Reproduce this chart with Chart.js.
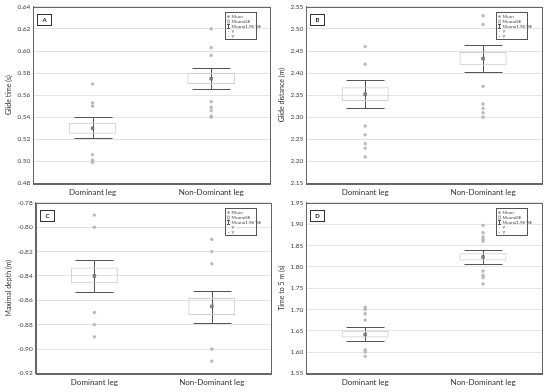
<!DOCTYPE html>
<html>
<head>
<meta charset="utf-8">
<script src="https://cdn.jsdelivr.net/npm/chart.js@4/dist/chart.umd.min.js"></script>
<style>
  body { margin: 0; background: #fff; }
  .panel { position: absolute; width: 275px; height: 196px; }
</style>
</head>
<body>
<div class="panel" style="left:0;top:0"><canvas id="chartA"></canvas></div>
<div class="panel" style="left:275px;top:0"><canvas id="chartB"></canvas></div>
<div class="panel" style="left:0;top:196px"><canvas id="chartC"></canvas></div>
<div class="panel" style="left:275px;top:196px"><canvas id="chartD"></canvas></div>
<script>
const categories = ["Dominant leg", "Non-Dominant leg"];
const legendItems = ["Mean", "Mean±SE", "Mean±1.96*SE", "Y", "Y"];

// A - glide time
const aMean = [0.530, 0.575];
const aSE = [[0.525, 0.535], [0.570, 0.580]];
const aCI = [[0.521, 0.540], [0.566, 0.585]];
const aDom = [0.570, 0.553, 0.550, 0.506, 0.501, 0.499];
const aNon = [0.620, 0.603, 0.596, 0.554, 0.549, 0.546, 0.541, 0.540];

// B - glide distance
const bMean = [2.352, 2.433];
const bSE = [[2.337, 2.368], [2.418, 2.448]];
const bCI = [[2.322, 2.384], [2.402, 2.464]];
const bDom = [2.46, 2.42, 2.28, 2.26, 2.24, 2.23, 2.21];
const bNon = [2.53, 2.51, 2.37, 2.33, 2.32, 2.31, 2.30];

// C - maximal depth
const cMean = [-0.840, -0.865];
const cSE = [[-0.846, -0.833], [-0.872, -0.858]];
const cCI = [[-0.853, -0.827], [-0.879, -0.852]];
const cDom = [-0.79, -0.80, -0.87, -0.88, -0.89];
const cNon = [-0.81, -0.82, -0.83, -0.90, -0.91];

// D - time to 5 m
const dMean = [1.641, 1.823];
const dSE = [[1.634, 1.650], [1.815, 1.832]];
const dCI = [[1.627, 1.658], [1.807, 1.840]];
const dDom = [1.705, 1.700, 1.690, 1.675, 1.605, 1.600, 1.590];
const dNon = [1.897, 1.880, 1.870, 1.865, 1.860, 1.790, 1.780, 1.775, 1.760];

const FONT = "Lato, 'Liberation Sans', sans-serif";

const decor = {
  id: "decor",
  beforeDatasetsDraw(chart, args, opts) {
    const { ctx, chartArea: a, scales } = chart;
    ctx.save();
    ctx.strokeStyle = "#555";
    ctx.lineWidth = 1;
    opts.ci.forEach((r, i) => {
      const x = Math.round(scales.x.getPixelForValue(i)) + 0.5;
      const y1 = Math.round(scales.y.getPixelForValue(r[0])) + 0.5;
      const y2 = Math.round(scales.y.getPixelForValue(r[1])) + 0.5;
      ctx.beginPath();
      ctx.moveTo(x, y1); ctx.lineTo(x, y2);
      ctx.moveTo(x - 19, y1); ctx.lineTo(x + 19, y1);
      ctx.moveTo(x - 19, y2); ctx.lineTo(x + 19, y2);
      ctx.stroke();
    });
    ctx.restore();
  },
  afterDraw(chart, args, opts) {
    const { ctx, chartArea: a } = chart;
    ctx.save();
    ctx.strokeStyle = "#666";
    ctx.lineWidth = 1;
    ctx.strokeRect(Math.round(a.left) + 0.5, Math.round(a.top) + 0.5, Math.round(a.right - a.left), Math.round(a.bottom - a.top));
    // panel letter
    ctx.strokeStyle = "#333";
    ctx.strokeRect(Math.round(a.left) + 4.5, Math.round(a.top) + 7.5, 14, 11);
    ctx.fillStyle = "#222";
    ctx.font = "bold 6px " + FONT;
    ctx.textAlign = "center";
    ctx.textBaseline = "middle";
    ctx.fillText(opts.letter, Math.round(a.left) + 11.5, Math.round(a.top) + 13.5);
    // legend
    const lx = Math.round(a.right) - 45.5, ly = Math.round(a.top) + 5.5;
    ctx.strokeStyle = "#555";
    ctx.strokeRect(lx, ly, 31, 27);
    ctx.font = "4.5px " + FONT;
    ctx.textAlign = "left";
    ctx.fillStyle = "#444";
    legendItems.forEach((t, i) => {
      const y = ly + 4 + i * 5;
      ctx.fillText(t, lx + 6, y);
    });
    ctx.fillStyle = "#777";
    ctx.fillRect(lx + 2, ly + 3, 2, 2);
    ctx.strokeStyle = "#bbb";
    ctx.strokeRect(lx + 2, ly + 7.5, 2, 3);
    ctx.strokeStyle = "#555";
    ctx.beginPath();
    ctx.moveTo(lx + 3, ly + 12); ctx.lineTo(lx + 3, ly + 16);
    ctx.moveTo(lx + 1.5, ly + 12); ctx.lineTo(lx + 4.5, ly + 12);
    ctx.moveTo(lx + 1.5, ly + 16); ctx.lineTo(lx + 4.5, ly + 16);
    ctx.stroke();
    ctx.fillStyle = "#bbb";
    ctx.fillRect(lx + 2.5, ly + 18.5, 1, 1);
    ctx.fillStyle = "#999";
    ctx.fillRect(lx + 2.5, ly + 23.5, 1, 1);
    ctx.restore();
  }
};

function makeChart(id, letter, title, mean, se, ci, dom, non, min, max, step) {
  const pts = (arr, c) => arr.map(v => ({ x: categories[c], y: v }));
  const leftCol = letter === "A" || letter === "C";
  const topRow = letter === "A" || letter === "B";
  new Chart(document.getElementById(id), {
    type: "bar",
    data: {
      labels: categories,
      datasets: [
        {
          type: "line",
          showLine: false,
          data: pts(dom, 0).concat(pts(non, 1)),
          pointRadius: 1.4,
          pointBackgroundColor: "#bdbdbd",
          pointBorderColor: "#a8a8a8",
          pointBorderWidth: 0.5,
          order: 1
        },
        {
          type: "line",
          showLine: false,
          data: mean.map((v, i) => ({ x: categories[i], y: v })),
          pointStyle: "rect",
          pointRadius: 2,
          pointBackgroundColor: "#888",
          pointBorderColor: "#555",
          pointBorderWidth: 0.5,
          order: 0
        },
        {
          type: "bar",
          data: se,
          backgroundColor: "rgba(255,255,255,0)",
          borderColor: "#d0d0d0",
          borderWidth: 1,
          borderSkipped: false,
          barPercentage: 0.4,
          categoryPercentage: 1,
          order: 2
        }
      ]
    },
    options: {
      animation: false,
      responsive: true,
      maintainAspectRatio: false,
      layout: {
        padding: {
          top: topRow ? 4 : 0,
          right: leftCol ? 2 : 8,
          bottom: topRow ? -5 : 1,
          left: leftCol ? 4 : 2
        }
      },
      plugins: {
        legend: { display: false },
        tooltip: { enabled: false },
        decor: { letter: letter, ci: ci }
      },
      scales: {
        x: {
          grid: { display: false, drawTicks: false },
          border: { color: "#666" },
          ticks: { color: "#333", font: { family: FONT, size: 8 }, padding: 4 }
        },
        y: {
          min: min,
          max: max,
          grid: { color: "#e4e4e4", drawTicks: false },
          border: { color: "#666" },
          ticks: {
            stepSize: step,
            color: "#444",
            padding: 3,
            font: { family: FONT, size: 6.5 },
            callback: v => v.toFixed(2)
          },
          title: { display: true, text: title, color: "#333", font: { family: FONT, size: 7 }, padding: 1 }
        }
      }
    },
    plugins: [decor]
  });
}

makeChart("chartA", "A", "Glide time (s)", aMean, aSE, aCI, aDom, aNon, 0.48, 0.64, 0.02);
makeChart("chartB", "B", "Glide distance (m)", bMean, bSE, bCI, bDom, bNon, 2.15, 2.55, 0.05);
makeChart("chartC", "C", "Maximal depth (m)", cMean, cSE, cCI, cDom, cNon, -0.92, -0.78, 0.02);
makeChart("chartD", "D", "Time to 5 m (s)", dMean, dSE, dCI, dDom, dNon, 1.55, 1.95, 0.05);
</script>
</body>
</html>
